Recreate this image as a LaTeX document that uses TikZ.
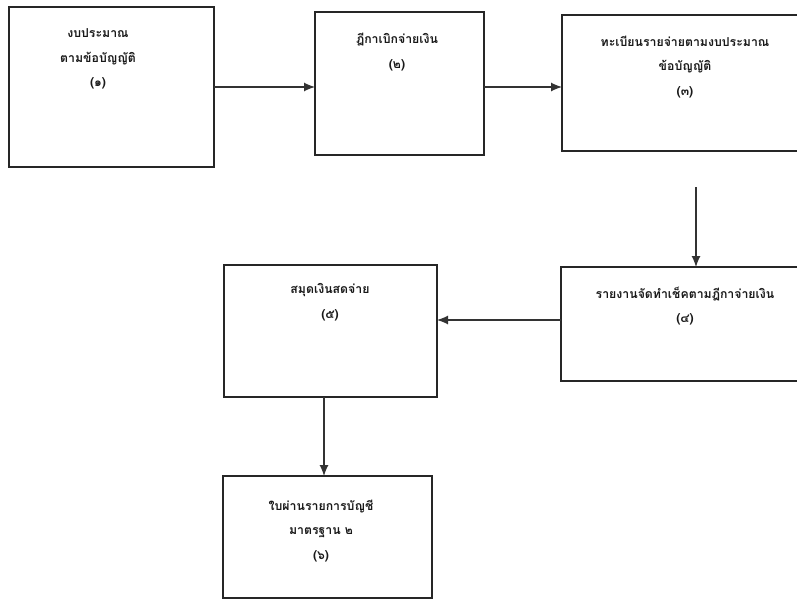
\documentclass[tikz,border=0pt]{standalone}
\usepackage{fontspec}
\newfontfamily\thaifont[Script=Thai]{Loma}
\usetikzlibrary{arrows.meta,calc,positioning}
\tikzstyle{docbox}=[
  draw=black!85,
  line width=1.3pt,
  inner sep=0pt,
  outer sep=0pt,
  rectangle,
]
\tikzstyle{boxtext}=[
  align=center,
  inner sep=0pt,
  font={\thaifont\bfseries\fontsize{12.3}{24.5}\selectfont},
  text=black!90,
]
\tikzstyle{arrow}=[
  draw=black!80,
  line width=1.2pt,
]
\tikzset{
  x=1pt, y=-1pt,
  >={Latex[length=11pt,width=9pt]},
}
\begin{document}
\begin{tikzpicture}
     \clip (0,0) rectangle (797,602);
     \fill [white] (0,0) rectangle (797,602);
     %%
     \node (box1) [docbox, minimum width=205, minimum height=160] at (111.5,87) {};
     \node (box2) [docbox, minimum width=169, minimum height=143] at (399.5,83.5) {};
     \node (box3) [docbox, minimum width=258, minimum height=136] at (691,83) {};
     \node (box4) [docbox, minimum width=259, minimum height=114] at (690.5,324) {};
     \node (box5) [docbox, minimum width=213, minimum height=132] at (330.5,331) {};
     \node (box6) [docbox, minimum width=209, minimum height=122] at (327.5,537) {};
     %%
     \node (t1) [boxtext] at (98,59) {งบประมาณ\\ตามข้อบัญญัติ\\(๑)};
     \node (t2) [boxtext] at (397,52) {ฎีกาเบิกจ่ายเงิน\\(๒)};
     \node (t3) [boxtext] at (685,67) {ทะเบียนรายจ่ายตามงบประมาณ\\ข้อบัญญัติ\\(๓)};
     \node (t4) [boxtext] at (685,306) {รายงานจัดทำเช็คตามฎีกาจ่ายเงิน\\(๔)};
     \node (t5) [boxtext] at (330,302) {สมุดเงินสดจ่าย\\(๕)};
     \node (t6) [boxtext] at (321,531) {ใบผ่านรายการบัญชี\\มาตรฐาน ๒\\(๖)};
     %%
     \coordinate (A) at (696,187);
     \coordinate (B) at ($(box4.west)+(0,-4)$);
     \coordinate (C) at (324,0);
     \draw [->, arrow] (box1.east) -- (box1.east -| box2.west);
     \draw [->, arrow] (box2.east |- box1.east) -- (box3.west |- box1.east);
     \draw [->, arrow] (A) -- (A |- box4.north);
     \draw [->, arrow] (B) -- (B -| box5.east);
     \draw [->, arrow] (C |- box5.south) -- (C |- box6.north);
\end{tikzpicture}
\end{document}
